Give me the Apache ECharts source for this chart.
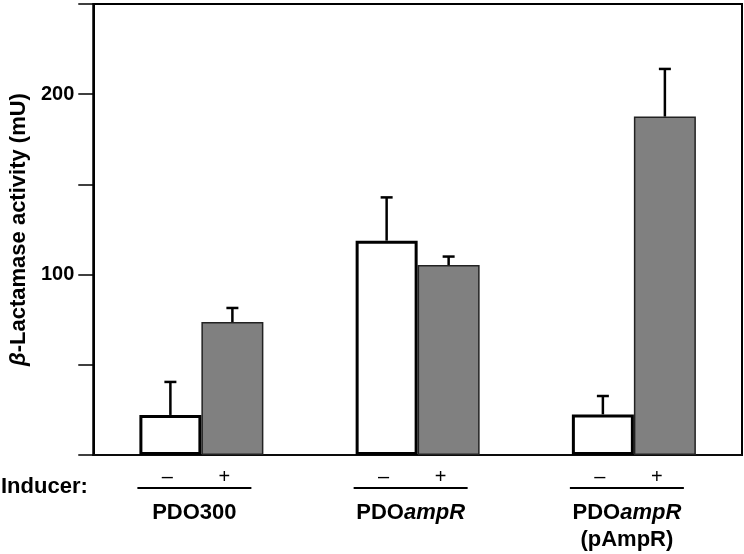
<!DOCTYPE html>
<html>
<head>
<meta charset="utf-8">
<script src="https://cdn.jsdelivr.net/npm/echarts@6/dist/echarts.min.js"></script>
<style>
html,body{margin:0;padding:0;background:#fff;}
#chart{width:744px;height:554px;}
</style>
</head>
<body>
<div id="chart"></div>
<script>
// ---- data ----
const strainBase = ['PDO300', 'PDO', 'PDO'];
const strainItalic = ['', 'ampR', 'ampR'];
const strainPlasmid = ['', '', '(pAmpR)'];
const categories = strainBase.map((b, i) => b + strainItalic[i] + (strainPlasmid[i] ? ' ' + strainPlasmid[i] : ''));
const uninducedMean = [22.2, 118.8, 22.5];
const uninducedErr = [18.3, 24.0, 10.2];
const inducedMean = [73.7, 105.3, 187.6];
const inducedErr = [7.8, 4.7, 26.4];
const yTicksLabelled = [100, 200];

const FONT = '"Liberation Sans", Arial, Helvetica, sans-serif';
const BAR_W = 62;

const chart = echarts.init(document.getElementById('chart'), null, {renderer: 'canvas'});

function errorSeries(name, mean, err, side) {
  return {
    name: name,
    type: 'custom',
    z: 5,
    silent: true,
    data: mean.map((m, i) => [i, m, m + err[i]]),
    renderItem: function (params, api) {
      const base = api.coord([api.value(0), api.value(1)]);
      const top = api.coord([api.value(0), api.value(2)]);
      const x = base[0] + side * BAR_W / 2;
      return {
        type: 'group',
        children: [
          {type: 'line', shape: {x1: x, y1: base[1], x2: x, y2: top[1]}, style: {stroke: '#000', lineWidth: 2.5}},
          {type: 'line', shape: {x1: x - 6, y1: top[1], x2: x + 6, y2: top[1]}, style: {stroke: '#000', lineWidth: 2.5}}
        ]
      };
    }
  };
}

const option = {
  animation: false,
  backgroundColor: '#fff',
  grid: {left: 92, right: 2, top: 4, bottom: 99, show: true, borderColor: '#000', borderWidth: 2, backgroundColor: 'transparent'},
  xAxis: {
    type: 'category',
    data: categories,
    axisLine: {lineStyle: {color: '#111', width: 1.5}},
    axisTick: {show: false},
    axisLabel: {
      margin: 12,
      interval: 0,
      padding: [0, 14, 0, 0],
      color: '#000',
      fontFamily: FONT,
      formatter: function (v, i) {
        let s = '{m|–}{p|+}\n{ln|}\n{sp|}\n{n|' + strainBase[i] + '}';
        if (strainItalic[i]) s += '{ni|' + strainItalic[i] + '}';
        if (strainPlasmid[i]) s += '\n{n|' + strainPlasmid[i] + '}';
        return s;
      },
      rich: {
        m: {width: 60, align: 'center', fontSize: 20, lineHeight: 20, fontFamily: FONT, color: '#000'},
        p: {width: 54, align: 'center', fontSize: 20, lineHeight: 20, fontFamily: FONT, color: '#000'},
        ln: {width: 114, height: 2, backgroundColor: '#000'},
        sp: {height: 10, lineHeight: 10, fontSize: 1},
        n: {fontSize: 22, fontWeight: 'bold', lineHeight: 27, fontFamily: FONT, color: '#000'},
        ni: {fontSize: 22, fontWeight: 'bold', fontStyle: 'italic', lineHeight: 27, fontFamily: FONT, color: '#000'}
      }
    }
  },
  yAxis: {
    type: 'value',
    min: 0, max: 250, interval: 50,
    name: '{b|β}-Lactamase activity (mU)',
    nameLocation: 'middle',
    nameGap: 60,
    nameTextStyle: {
      fontFamily: FONT, fontSize: 22, fontWeight: 'bold', color: '#000',
      rich: {b: {fontFamily: FONT, fontSize: 22, fontWeight: 'bold', fontStyle: 'italic', color: '#000'}}
    },
    splitLine: {show: false},
    axisLine: {show: true, lineStyle: {color: '#000', width: 2}},
    axisTick: {show: true, inside: false, length: 15, lineStyle: {color: '#000', width: 1.5}},
    axisLabel: {
      margin: 19,
      fontFamily: FONT, fontSize: 20, fontWeight: 'bold', color: '#000',
      formatter: v => yTicksLabelled.includes(v) ? String(v) : ''
    }
  },
  graphic: [{
    type: 'text', x: 1, y: 487,
    style: {text: 'Inducer:', font: 'bold 22px ' + FONT, fill: '#000', verticalAlign: 'middle', align: 'left'}
  }],
  series: [
    {
      name: 'Uninduced', type: 'bar', data: uninducedMean, barWidth: BAR_W, barGap: '0%', z: 3,
      itemStyle: {color: '#fff', borderColor: '#000', borderWidth: 3}
    },
    {
      name: 'Induced', type: 'bar', data: inducedMean, barWidth: BAR_W, barGap: '0%', z: 2,
      itemStyle: {color: '#808080', borderColor: '#222', borderWidth: 1.5}
    },
    errorSeries('Uninduced err', uninducedMean, uninducedErr, -1),
    errorSeries('Induced err', inducedMean, inducedErr, 1)
  ]
};
chart.setOption(option);
</script>
</body>
</html>
